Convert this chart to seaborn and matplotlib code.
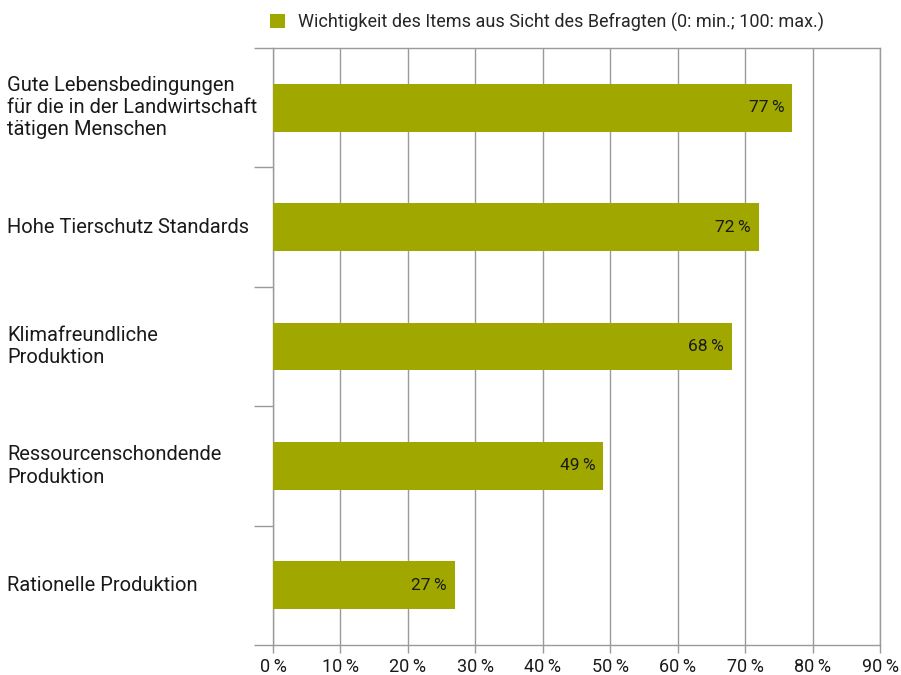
import matplotlib
matplotlib.use("Agg")
import matplotlib.pyplot as plt
import matplotlib.transforms as mtransforms
from matplotlib.patches import Patch
import seaborn as sns
import pandas as pd

categories = [
    "Gute Lebensbedingungen\nfür die in der Landwirtschaft\ntätigen Menschen",
    "Hohe Tierschutz Standards",
    "Klimafreundliche\nProduktion",
    "Ressourcenschondende\nProduktion",
    "Rationelle Produktion",
]
values = [77, 72, 68, 49, 27]
x_ticks = [0, 10, 20, 30, 40, 50, 60, 70, 80, 90]
legend_label = "Wichtigkeit des Items aus Sicht des Befragten (0: min.; 100: max.)"

bar_color = "#A0A800"
grid_color = "#9a9a9a"

sns.set_theme(style="white")
plt.rcParams["font.family"] = ["Roboto", "DejaVu Sans"]

df = pd.DataFrame({"item": categories, "value": values})

fig = plt.figure(figsize=(9.01, 6.75), dpi=100)
ax = fig.add_axes([273 / 901, 1 - 645 / 675, (880 - 273) / 901, (645 - 48) / 675])

sns.barplot(data=df, x="value", y="item", orient="h", color=bar_color,
            saturation=1, width=0.4, linewidth=0, ax=ax, zorder=3)

ax.set_xlim(0, 90)
ax.set_ylim(len(categories) - 0.5, -0.5)
ax.set_xticks(x_ticks)
ax.set_xticklabels([f"{t}\u2009%" for t in x_ticks], fontsize=13, color="#1a1a1a")
ax.set_xlabel("")
ax.set_ylabel("")

# vertical grid
ax.grid(axis="x", color=grid_color, linewidth=1, zorder=0)
ax.grid(axis="y", visible=False)

for side in ["top", "right", "bottom", "left"]:
    ax.spines[side].set_color(grid_color)
    ax.spines[side].set_linewidth(1)

# category separators on the y axis
ax.set_yticks(range(len(categories)))
ax.set_yticklabels([])
ax.set_yticks([i - 0.5 for i in range(len(categories) + 1)], minor=True)
ax.tick_params(axis="y", which="both", left=True)
ax.tick_params(axis="y", which="major", length=0)
ax.tick_params(axis="y", which="minor", length=14, width=1, color=grid_color, direction="out")
ax.tick_params(axis="x", which="major", bottom=True, length=6, width=1, color=grid_color,
               direction="out", pad=3)

# left-aligned category labels
trans = mtransforms.blended_transform_factory(fig.transFigure, ax.transData)
for i, label in enumerate(categories):
    ax.text(7 / 901, i, label, transform=trans, ha="left", va="center",
            fontsize=14.5, color="#1a1a1a", linespacing=1.22)

# value labels inside bar ends
for i, v in enumerate(values):
    ax.text(v - 1.2, i, f"{v}\u2009%", ha="right", va="center",
            fontsize=12.5, color="#1a1a1a", zorder=4)

handle = Patch(facecolor=bar_color, edgecolor="none")
fig.legend([handle], [legend_label], loc="center left",
           bbox_to_anchor=(270 / 901, 1 - 22 / 675), frameon=False,
           fontsize=13, handlelength=0.85, handleheight=0.85, handletextpad=0.7,
           borderaxespad=0, borderpad=0)

fig.savefig("out.png", dpi=100)
